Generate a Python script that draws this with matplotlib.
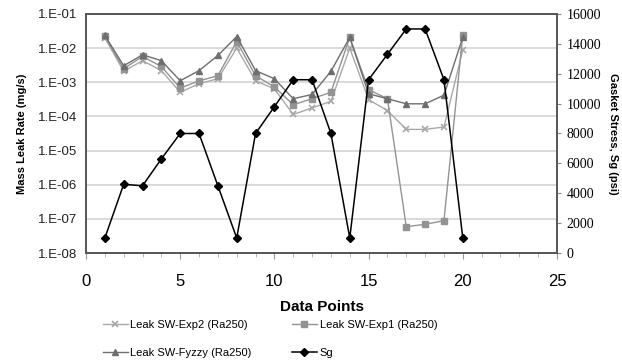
import matplotlib
matplotlib.use("Agg")
import matplotlib.pyplot as plt
from matplotlib.ticker import FixedLocator, MultipleLocator, FixedFormatter

plt.rcParams["font.family"] = ["Liberation Sans", "DejaVu Sans"]

points = list(range(1, 21))

leak_exp2 = [0.020, 0.0021, 0.0043, 0.0022, 0.00051, 0.00091, 0.00127, 0.010, 0.00111, 0.00064,
             0.000114, 0.000178, 0.000277, 0.010, 0.00031, 0.000148, 0.0000417, 0.0000417, 0.000049, 0.0089]
leak_exp1 = [0.022, 0.0025, 0.0057, 0.0029, 0.00068, 0.0011, 0.00156, 0.0156, 0.00156, 0.00073,
             0.00022, 0.00033, 0.00051, 0.0206, 0.00061, 0.00033, 5.9e-8, 6.9e-8, 8.9e-8, 0.0244]
leak_fuzzy = [0.0236, 0.00305, 0.0064, 0.0043, 0.00111, 0.0022, 0.0061, 0.0219, 0.0022, 0.00127,
              0.00033, 0.00044, 0.0021, 0.0206, 0.00046, 0.00033, 0.000234, 0.000234, 0.00042, 0.0209]
stress_sg = [1000, 4600, 4500, 6300, 8000, 8000, 4500, 1000, 8000, 9800,
             11600, 11600, 8000, 1000, 11600, 13300, 15000, 15000, 11600, 1000]

left_ticks = [1e-8, 1e-7, 1e-6, 1e-5, 1e-4, 1e-3, 1e-2, 1e-1]
left_labels = ["1.E-08", "1.E-07", "1.E-06", "1.E-05", "1.E-04", "1.E-03", "1.E-02", "1.E-01"]
right_ticks = [0, 2000, 4000, 6000, 8000, 10000, 12000, 14000, 16000]
x_ticks = [0, 5, 10, 15, 20, 25]

fig = plt.figure(figsize=(6.22, 3.64), dpi=100)
ax = fig.add_axes([86/622, 1 - 253/364, (557-86)/622, (253-14)/364])
ax2 = ax.twinx()

c_exp2 = "#a8a8a8"
c_exp1 = "#939393"
c_fuzzy = "#6e6e6e"

l1, = ax.plot(points, leak_exp2, color=c_exp2, lw=1.0, marker="x", ms=4, mew=1.2,
              label="Leak SW-Exp2 (Ra250)")
l2, = ax.plot(points, leak_exp1, color=c_exp1, lw=1.0, marker="s", ms=4.5,
              label="Leak SW-Exp1 (Ra250)")
l3, = ax.plot(points, leak_fuzzy, color=c_fuzzy, lw=1.0, marker="^", ms=5,
              label="Leak SW-Fyzzy (Ra250)")
l4, = ax2.plot(points, stress_sg, color="black", lw=1.1, marker="D", ms=3.8,
               label="Sg")

ax.set_yscale("log")
ax.set_ylim(1e-8, 1e-1)
ax.set_xlim(0, 25)
ax.yaxis.set_major_locator(FixedLocator(left_ticks))
ax.yaxis.set_major_formatter(FixedFormatter(left_labels))
ax.yaxis.set_minor_locator(FixedLocator([]))
ax.set_xticks(x_ticks)
ax.xaxis.set_minor_locator(MultipleLocator(1))
ax.grid(axis="y", color="#d4d4d4", lw=1.2)
ax.set_axisbelow(True)

ax2.set_ylim(0, 16000)
ax2.set_yticks(right_ticks)

for a in (ax, ax2):
    for s in a.spines.values():
        s.set_color("#555555")
        s.set_linewidth(1.2)

ax.tick_params(axis="y", which="both", length=0, labelsize=9.5, pad=6, labelcolor="#222222")
ax.tick_params(axis="x", which="major", length=4, labelsize=12, pad=11, color="#999999")
ax.tick_params(axis="x", which="minor", length=3, color="#aaaaaa")
ax2.tick_params(axis="y", length=3, labelsize=9, pad=4, color="#888888")
for t in ax2.get_yticklabels():
    t.set_family("Liberation Serif")
    t.set_fontsize(10)

ax.set_xlabel("Data Points", fontsize=11, fontweight="bold", labelpad=8)
ax.set_ylabel("Mass Leak Rate (mg/s)", fontsize=8, fontweight="bold", labelpad=8)
ax2.set_ylabel("Gasket Stress, Sg (psi)", fontsize=8, fontweight="bold", rotation=270,
               labelpad=12)

fig.legend(handles=[l1, l3, l2, l4], loc="lower center", bbox_to_anchor=(0.434, -0.01),
           ncol=2, frameon=False, fontsize=8, handlelength=2.25, columnspacing=3.6,
           handletextpad=0.25, labelspacing=1.62)

fig.savefig("out.png", dpi=100)
